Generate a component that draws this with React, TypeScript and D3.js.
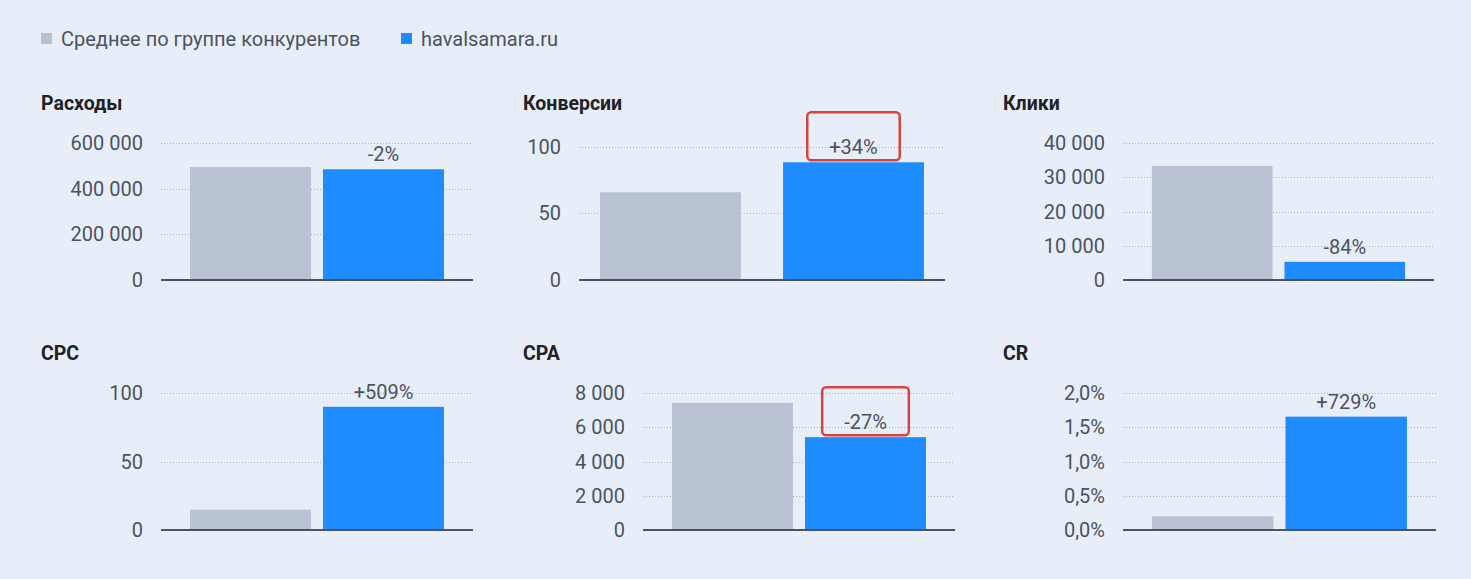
import React, { useEffect, useRef } from 'react';
import * as d3 from 'd3';

const WIDTH = 1471;
const HEIGHT = 579;

// legend
const seriesNames = ['Среднее по группе конкурентов', 'havalsamara.ru'];
const seriesColors = ['#b8c2d3', '#1e8bff'];

// metrics, one panel each
const metricTitles = ['Расходы', 'Конверсии', 'Клики', 'CPC', 'CPA', 'CR'];
const competitorValues = [495000, 66, 33300, 14.8, 7420, 0.2];
const siteValues = [485000, 88.5, 5300, 89.9, 5420, 1.655];
const diffLabels = ['-2%', '+34%', '-84%', '+509%', '-27%', '+729%'];
const highlighted = [false, true, false, false, true, false];

const yMax = [600000, 103, 40000, 100, 8000, 2];
const yTicks = [
  [0, 200000, 400000, 600000],
  [0, 50, 100],
  [0, 10000, 20000, 30000, 40000],
  [0, 50, 100],
  [0, 2000, 4000, 6000, 8000],
  [0, 0.5, 1, 1.5, 2],
];

// layout per panel
const panelX = [41, 523, 1003, 41, 523, 1003];
const plotLeft = [161, 579, 1123, 161, 643, 1123];
const plotRight = [473, 945, 1434, 473, 955, 1436];
const padInner = [0.09, 0.23, 0.09, 0.09, 0.09, 0.09];
const padOuter = [0.218, 0.115, 0.218, 0.218, 0.218, 0.218];
const rowTop = [143, 393];
const rowBase = [280, 530];

const FONT = 'Roboto, "Noto Sans", sans-serif';

const fmtInt = (v: number) => d3.format(',')(v).replace(/,/g, ' ');
const fmtPct = (v: number) => d3.format('.1f')(v).replace('.', ',') + '%';

const App: React.FC = () => {
  const ref = useRef<SVGSVGElement | null>(null);

  useEffect(() => {
    if (!ref.current) return;
    const svg = d3.select(ref.current);
    svg.selectAll('*').remove();

    svg.append('rect')
      .attr('width', WIDTH)
      .attr('height', HEIGHT)
      .attr('fill', '#e8eef8');

    // legend
    const legendX = [41, 401];
    seriesNames.forEach((name, i) => {
      svg.append('rect')
        .attr('x', legendX[i])
        .attr('y', 33)
        .attr('width', 11)
        .attr('height', 11)
        .attr('fill', seriesColors[i]);
      svg.append('text')
        .attr('x', legendX[i] + 20)
        .attr('y', 46)
        .style('font-family', FONT)
        .style('font-size', '20px')
        .attr('fill', '#4b5361')
        .text(name);
    });

    metricTitles.forEach((title, p) => {
      const row = p < 3 ? 0 : 1;
      const base = rowBase[row];
      const g = svg.append('g');

      g.append('text')
        .attr('x', panelX[p])
        .attr('y', base - 170)
        .style('font-family', FONT)
        .style('font-size', '19.5px')
        .style('font-weight', '700')
        .attr('fill', '#1f2226')
        .text(title);

      const y = d3.scaleLinear()
        .domain([0, yMax[p]])
        .range([base, rowTop[row]]);

      const x = d3.scaleBand<number>()
        .domain([0, 1])
        .range([plotLeft[p], plotRight[p]])
        .paddingInner(padInner[p])
        .paddingOuter(padOuter[p]);

      const fmt = p === 5 ? fmtPct : fmtInt;

      // grid lines
      g.selectAll('line.grid')
        .data(yTicks[p].filter(t => t > 0))
        .join('line')
        .attr('class', 'grid')
        .attr('x1', plotLeft[p])
        .attr('x2', plotRight[p])
        .attr('y1', d => Math.round(y(d)) + 0.5)
        .attr('y2', d => Math.round(y(d)) + 0.5)
        .attr('stroke', '#a7b0bd')
        .attr('stroke-width', 1)
        .attr('stroke-dasharray', '1,2');

      // tick labels
      g.selectAll('text.tick')
        .data(yTicks[p])
        .join('text')
        .attr('class', 'tick')
        .attr('x', plotLeft[p] - 18)
        .attr('y', d => y(d))
        .attr('dy', '0.35em')
        .attr('text-anchor', 'end')
        .style('font-family', FONT)
        .style('font-size', '20px')
        .attr('fill', '#4b5361')
        .text(d => fmt(d));

      const vals = [competitorValues[p], siteValues[p]];

      g.selectAll('rect.bar')
        .data(vals)
        .join('rect')
        .attr('class', 'bar')
        .attr('x', (_, i) => x(i)!)
        .attr('width', x.bandwidth())
        .attr('y', d => y(d))
        .attr('height', d => base - y(d))
        .attr('fill', (_, i) => seriesColors[i]);

      // baseline
      g.append('line')
        .attr('x1', plotLeft[p])
        .attr('x2', plotRight[p])
        .attr('y1', base)
        .attr('y2', base)
        .attr('stroke', '#4b5361')
        .attr('stroke-width', 2);

      const lx = x(1)! + x.bandwidth() / 2;
      const ly = y(siteValues[p]) - 8;
      const label = g.append('text')
        .attr('x', lx)
        .attr('y', ly)
        .attr('text-anchor', 'middle')
        .style('font-family', FONT)
        .style('font-size', '20px')
        .attr('fill', '#4b5361')
        .text(diffLabels[p]);

      if (highlighted[p]) {
        const bb = (label.node() as SVGTextElement).getBBox();
        g.append('rect')
          .attr('x', lx - bb.width / 2 - 22)
          .attr('y', ly - 42)
          .attr('width', bb.width + 44)
          .attr('height', 48)
          .attr('rx', 4)
          .attr('fill', 'none')
          .attr('stroke', '#d8443c')
          .attr('stroke-width', 2.5);
      }
    });
  }, []);

  return (
    <svg
      ref={ref}
      width={WIDTH}
      height={HEIGHT}
      style={{ position: 'absolute', left: 0, top: 0, display: 'block' }}
    />
  );
};

export default App;
